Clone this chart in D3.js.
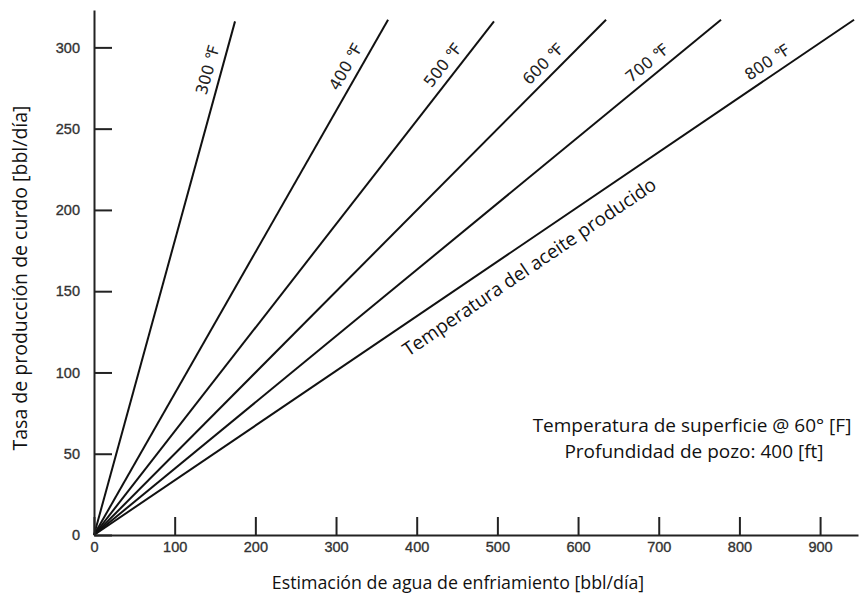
<!DOCTYPE html>
<html lang="es">
<head>
  <meta charset="UTF-8">
  <title>Agua de enfriamiento</title>
  <script src="https://cdn.jsdelivr.net/npm/d3@7"></script>
  <style>
    body { margin: 0; background: #fff; }
    .axis path, .axis line { stroke: #222; stroke-width: 2; }
    .curve { fill: none; stroke: #111; stroke-width: 2; }
    .tlabel { font-family: "DejaVu Sans", "Liberation Sans", sans-serif; font-size: 16px; fill: #222; }
    .title { font-family: "Open Sans", "Noto Sans", sans-serif; font-size: 19px; fill: #111; }
  </style>
</head>
<body>
  <div class="chart"></div>
  <script>
    // temperatura del aceite producido (°F) y extremo superior de cada recta
    const temps = [300, 400, 500, 600, 700, 800];
    const endWater = [174.8, 364.5, 495.8, 634.7, 777.2, 942.1];
    const endRate = [316, 317, 316, 317, 317, 317];
    const xTicks = [0, 100, 200, 300, 400, 500, 600, 700, 800, 900];
    const yTicks = [0, 50, 100, 150, 200, 250, 300];
    const labelRate = 284;

    const width = 861, height = 598;
    const svg = d3.select(".chart").append("svg")
      .attr("width", width)
      .attr("height", height);

    const x = d3.scaleLinear().domain([0, 947]).range([94, 858]);
    const y = d3.scaleLinear().domain([0, 323]).range([535, 10]);

    // rectas
    temps.forEach((t, i) => {
      svg.append("line")
        .attr("class", "curve")
        .attr("x1", x(0)).attr("y1", y(0))
        .attr("x2", x(endWater[i])).attr("y2", y(endRate[i]));

      const ang = Math.atan2(y(endRate[i]) - y(0), x(endWater[i]) - x(0)) * 180 / Math.PI;
      const lx = labelRate * endWater[i] / endRate[i];
      svg.append("text")
        .attr("class", "tlabel")
        .attr("transform", `translate(${x(lx)},${y(labelRate)}) rotate(${ang})`)
        .attr("dy", -8)
        .attr("text-anchor", "middle")
        .text(t + " \u2109");
    });

    // etiqueta a lo largo de la recta de 800 F
    const last = temps.length - 1;
    const angLast = Math.atan2(y(endRate[last]) - y(0), x(endWater[last]) - x(0)) * 180 / Math.PI;
    const mx = 524;
    svg.append("text")
      .attr("class", "title")
      .attr("transform", `translate(${x(mx)},${y(mx * endRate[last] / endWater[last])}) rotate(${angLast})`)
      .attr("dy", 29)
      .attr("text-anchor", "middle")
      .text("Temperatura del aceite producido");

    // ejes
    const gx = svg.append("g")
      .attr("class", "axis")
      .attr("transform", `translate(0,${y(0)})`)
      .call(d3.axisBottom(x).tickValues(xTicks).tickSizeInner(-18).tickSizeOuter(0).tickPadding(7));

    const gy = svg.append("g")
      .attr("class", "axis")
      .attr("transform", `translate(${x(0)},0)`)
      .call(d3.axisLeft(y).tickValues(yTicks).tickSizeInner(-18).tickSizeOuter(0).tickPadding(14));

    [gx, gy].forEach(g => g.selectAll(".tick text")
      .style("font-size", "14.5px")
      .style("font-family", "'Liberation Sans', Arial, sans-serif")
      .style("fill", "#333")
      .style("stroke", "#333")
      .style("stroke-width", "0.35px"));

    // títulos
    svg.append("text")
      .attr("class", "title")
      .style("font-size", "19.5px")
      .attr("transform", "translate(27,278) rotate(-90)")
      .attr("text-anchor", "middle")
      .text("Tasa de producción de curdo [bbl/día]");

    svg.append("text")
      .attr("class", "title")
      .style("font-size", "17.8px")
      .attr("x", 458).attr("y", 589)
      .attr("text-anchor", "middle")
      .text("Estimación de agua de enfriamiento [bbl/día]");

    svg.append("text")
      .attr("class", "title")
      .attr("x", 692).attr("y", 432)
      .attr("text-anchor", "middle")
      .text("Temperatura de superficie @ 60° [F]");

    svg.append("text")
      .attr("class", "title")
      .attr("x", 694).attr("y", 458)
      .attr("text-anchor", "middle")
      .text("Profundidad de pozo: 400 [ft]");
  </script>
</body>
</html>
